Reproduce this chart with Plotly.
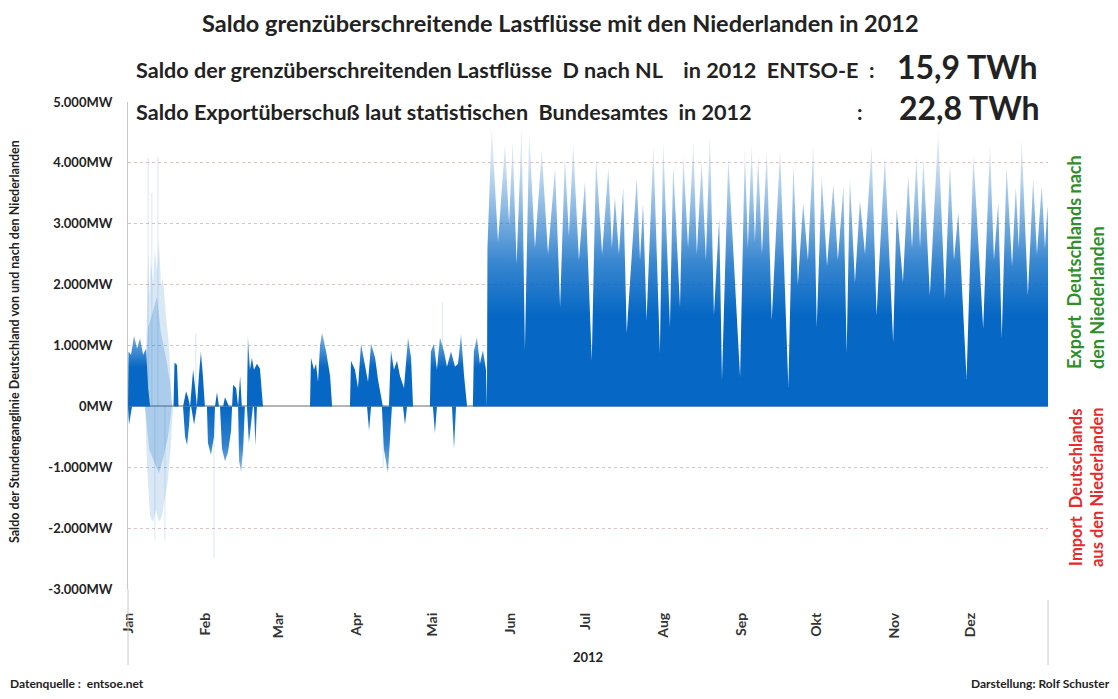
import plotly.graph_objects as go

# ---------------- data (MW, x = day of year 2012) ----------------
month_start_days = [0, 31, 60, 91, 121, 152, 182, 213, 244, 274, 305, 335]
month_labels = ["Jan", "Feb", "Mar", "Apr", "Mai", "Jun", "Jul", "Aug", "Sep", "Okt", "Nov", "Dez"]
y_tick_vals = [-3000, -2000, -1000, 0, 1000, 2000, 3000, 4000, 5000]
y_tick_text = ["-3.000MW", "-2.000MW", "-1.000MW", "0MW", "1.000MW", "2.000MW", "3.000MW", "4.000MW", "5.000MW"]

# export period (from late May): alternating peaks / troughs of the hourly curve
export_day = [142.8, 143.0, 144.7, 147.2, 150.0, 151.6, 153.0, 154.6, 156.6, 157.9, 159.6, 161.9, 164.6, 167.1,
              169.9, 171.9, 173.8, 175.4, 177.1, 179.4, 181.8, 184.5, 186.2, 188.6, 191.1, 192.5, 193.7, 195.3,
              197.0, 198.4, 202.4, 203.7, 204.9, 206.3, 209.0, 211.6, 212.9, 215.6, 216.9, 219.6, 220.9, 222.8,
              224.9, 226.3, 228.2, 229.9, 231.5, 233.1, 235.2, 236.3, 238.8, 243.5, 245.4, 246.6, 248.1, 249.4,
              250.7, 252.2, 254.1, 256.1, 259.4, 262.7, 264.7, 266.5, 268.6, 270.5, 272.6, 274.0, 276.0, 278.1,
              280.6, 282.4, 284.6, 285.9, 287.2, 289.2, 291.2, 293.2, 295.8, 297.8, 301.1, 304.4, 305.8, 308.3,
              310.4, 311.9, 313.7, 315.1, 316.4, 319.0, 322.3, 325.0, 327.0, 328.6, 330.3, 333.6, 336.3, 340.2,
              342.9, 344.5, 346.2, 347.6, 349.5, 351.7, 353.2, 354.4, 355.5, 358.0, 360.1, 361.6, 363.5, 364.8,
              365.8, 366.0, 366.0]
export_mw = [0, 2600, 4600, 2700, 4310, 3000, 4360, 2340, 4600, 920, 4500, 2600, 4200, 2500,
             3920, 1630, 4090, 2800, 4300, 2400, 3700, 750, 4090, 2500, 3920, 2600, 3430, 2500,
             3600, 1200, 3760, 2400, 3330, 1410, 4280, 870, 4360, 1300, 3980, 1630, 4140, 2600,
             4330, 2500, 4030, 2400, 4500, 1500, 3100, 430, 4090, 480, 4250, 2600, 4280, 2700,
             4110, 2500, 4200, 1410, 4220, 320, 3980, 2000, 3330, 2400, 4280, 1300, 3760, 2300,
             3650, 2400, 3600, 870, 3730, 2030, 3380, 2500, 4280, 1490, 4110, 1050, 3250, 2040,
             3790, 2600, 4110, 2600, 4060, 1820, 4520, 1770, 4000, 2400, 3180, 450, 4140, 1280,
             4280, 2400, 3350, 1110, 3950, 2300, 3600, 2600, 4390, 1820, 3730, 2500, 3620, 2600,
             3300, 3000, 0]

# January - May, positive flows (dense part)
early_pos_day = [0, 0.2, 1.2, 2.4, 3.6, 4.8, 6.0, 7.2, 8.0, 8.8, 15.9, 17.5, 18.1, 18.5, 19.5, 20.1,
                 21.9, 23.1, 23.9, 24.7, 25.9, 26.7, 27.4, 28.2, 29.0, 29.8, 30.6, 34.6, 35.4, 36.2,
                 37.8, 38.6, 40.2, 41.4, 41.8, 43.0, 43.8, 44.6, 45.3, 47.3, 47.7, 48.5, 49.3, 50.1,
                 51.3, 52.5, 53.7, 72.4, 72.8, 74.0, 74.8, 75.6, 76.4, 77.2, 78.8, 80.4, 81.2, 88.3,
                 88.7, 90.3, 91.5, 92.7, 94.3, 95.5, 96.7, 98.3, 99.5, 100.6, 101.4, 103.8, 104.6, 105.8,
                 107.0, 108.2, 109.8, 111.4, 112.6, 113.4, 120.1, 120.5, 121.7, 122.9, 124.1, 125.7, 126.9,
                 128.5, 130.1, 131.3, 132.5, 133.7, 134.9, 137.2, 137.6, 138.8, 140.0, 141.2, 142.4, 142.8]
early_pos_mw = [0, 900, 850, 1160, 950, 1120, 850, 950, 300, 0, 0, 0, 0, 720, 680, 0,
                0, 250, 150, 0, 600, 300, 0, 500, 900, 500, 0, 0, 230, 0,
                0, 150, 0, 0, 350, 300, 0, 500, 0, 0, 1160, 600, 800, 600,
                700, 620, 0, 0, 800, 600, 700, 400, 1000, 1210, 900, 500, 0, 0,
                750, 600, 300, 1030, 700, 400, 1030, 800, 430, 200, 0, 0, 920, 600,
                750, 500, 300, 1130, 800, 0, 0, 900, 1030, 600, 1130, 900, 650,
                900, 650, 700, 1190, 500, 0, 0, 900, 1130, 700, 920, 600, 0]

# January - May, negative flows (imports)
early_neg_day = [0, 0.4, 1.0, 1.6, 21.9, 22.7, 23.5, 24.3, 24.7, 25.1, 26.3, 27.4, 31.4, 31.8, 33.0, 34.2,
                 34.6, 36.6, 37.4, 38.6, 39.8, 41.0, 41.4, 43.8, 44.2, 45.0, 45.8, 46.5, 47.3, 48.1, 48.9,
                 49.7, 50.1, 50.7, 51.3, 95.1, 95.9, 96.7, 101.0, 101.8, 103.4, 104.2, 105.0, 109.4, 110.2,
                 111.0, 121.3, 122.1, 122.9, 128.9, 129.7, 130.5]
early_neg_mw = [0, -300, -150, 0, 0, -500, -640, -300, 0, 0, -300, 0, 0, -600, -800, -500,
                0, 0, -700, -900, -750, -400, 0, 0, -900, -1080, -700, 0, 0, -600, -300,
                0, 0, -650, 0, 0, -400, 0, 0, -700, -1100, -600, 0, 0, -300,
                0, 0, -440, 0, 0, -700, 0]

# storm period in January (volatile, sparse hourly values)
storm_outer_pos_day = [6.8, 7.6, 8.0, 8.4, 9.1, 9.9, 10.7, 11.5, 12.3, 13.1, 13.9, 15.1, 16.3, 17.5]
storm_outer_pos_mw = [0, 1500, 2500, 1800, 2400, 2000, 2600, 2200, 2700, 2000, 2100, 1500, 1000, 0]
storm_outer_neg_day = [6.8, 7.6, 8.8, 9.9, 11.1, 12.3, 13.5, 14.7, 15.9, 17.1, 17.9]
storm_outer_neg_mw = [0, -1000, -1800, -1900, -1700, -1900, -1800, -1500, -1200, -600, 0]
storm_inner_pos_day = [6.8, 8.0, 9.5, 11.5, 13.1, 15.1, 16.7, 17.5]
storm_inner_pos_mw = [0, 1300, 1500, 1800, 1200, 800, 400, 0]
storm_inner_neg_day = [6.8, 8.4, 10.3, 12.3, 14.3, 15.9, 17.5]
storm_inner_neg_mw = [0, -700, -900, -1100, -800, -500, 0]

# isolated extreme hours
sparse_day = [8.0, 9.5, 11.9, 10.7, 14.7, 34.2, 27.0, 101.5, 125.0]
sparse_mw = [4080, 3500, 4100, -2200, -2200, -2500, 1200, -1000, 1700]

# ---------------- styling ----------------
R, G, B = 6, 104, 196
BLUE = f"rgb({R},{G},{B})"


def rgba(a):
    return f"rgba({R},{G},{B},{a})"


FONT = "Lato"
PAGE_OFFSET = 8  # default body margin of the html page

fig = go.Figure()

# storm layers
for d, v, a in [(storm_outer_pos_day, storm_outer_pos_mw, 0.15), (storm_outer_neg_day, storm_outer_neg_mw, 0.15),
                (storm_inner_pos_day, storm_inner_pos_mw, 0.22), (storm_inner_neg_day, storm_inner_neg_mw, 0.22)]:
    fig.add_trace(go.Scatter(x=d, y=v, mode="lines", line=dict(width=0), fill="tozeroy",
                             fillcolor=rgba(a), hoverinfo="skip", showlegend=False))

fig.add_trace(go.Bar(x=sparse_day, y=sparse_mw, width=0.35, marker=dict(color=rgba(0.18), line=dict(width=0)),
                     hoverinfo="skip", showlegend=False))

# early positive flows
fig.add_trace(go.Scatter(x=early_pos_day, y=early_pos_mw, mode="lines", line=dict(width=0), fill="tozeroy",
                         fillgradient=dict(type="vertical", start=0, stop=1300,
                                           colorscale=[[0, BLUE], [0.5, BLUE], [1, rgba(0.4)]]),
                         hoverinfo="skip", showlegend=False))
# early negative flows
fig.add_trace(go.Scatter(x=early_neg_day, y=early_neg_mw, mode="lines", line=dict(width=0), fill="tozeroy",
                         fillgradient=dict(type="vertical", start=-1200, stop=0,
                                           colorscale=[[0, rgba(0.35)], [0.5, rgba(0.85)], [1, BLUE]]),
                         hoverinfo="skip", showlegend=False))
# export period
fig.add_trace(go.Scatter(x=export_day, y=export_mw, mode="lines", line=dict(width=0), fill="tozeroy",
                         fillgradient=dict(type="vertical", start=0, stop=4700,
                                           colorscale=[[0, BLUE], [0.32, BLUE], [0.5, rgba(0.8)],
                                                       [0.7, rgba(0.45)], [0.85, rgba(0.2)], [1, rgba(0.06)]]),
                         hoverinfo="skip", showlegend=False))

fig.update_layout(
    width=1118 - 2 * PAGE_OFFSET, height=699 - 2 * PAGE_OFFSET,
    margin=dict(l=128 - PAGE_OFFSET, r=1118 - 1048 - PAGE_OFFSET, t=102 - PAGE_OFFSET,
                b=699 - 589 - PAGE_OFFSET, autoexpand=False),
    paper_bgcolor="white", plot_bgcolor="white",
    barmode="overlay",
    font=dict(family=FONT, color="#222"),
    showlegend=False,
)
fig.update_xaxes(range=[0, 366], tickvals=month_start_days, ticktext=month_labels, tickangle=-90,
                 showgrid=False, zeroline=False, showline=False, ticks="",
                 tickfont=dict(size=14, family=FONT, weight="bold", color="#333"), ticklabelstandoff=20)
fig.update_yaxes(range=[-3000, 5000], tickvals=y_tick_vals, ticktext=y_tick_text,
                 showgrid=True, gridcolor="#dcc4c4", griddash="dot", gridwidth=1,
                 zeroline=True, zerolinecolor="#b4b4b4", zerolinewidth=1.5,
                 showline=True, linecolor="#c8c8c8", linewidth=1, ticks="",
                 tickfont=dict(size=13, family=FONT, weight="bold", color="#222"), ticklabelstandoff=12)


def px_x(p):
    return (p - 128) / 920


def px_y(p):
    return (589 - p) / 487


def note(text, x, y, size, xanchor="center", yanchor="middle", color="#222", angle=0, align="center"):
    fig.add_annotation(text=text, x=px_x(x), y=px_y(y), xref="paper", yref="paper", showarrow=False,
                       xanchor=xanchor, yanchor=yanchor, textangle=angle, align=align,
                       font=dict(family=FONT, size=size, color=color, weight="bold"))


note("Saldo grenzüberschreitende Lastflüsse mit den Niederlanden in 2012", 560, 23, 23.5)
note("Saldo der grenzüberschreitenden Lastflüsse  D nach NL    in 2012  ENTSO-E  :", 134, 70, 21.6, xanchor="left")
note("15,9 TWh", 1040, 67, 32, xanchor="right")
note("Saldo Exportüberschuß laut statistischen  Bundesamtes  in 2012", 134, 112, 21.6, xanchor="left")
note(":", 860, 112, 21.6)
note("22,8 TWh", 1042, 108, 32, xanchor="right")
note("Export  Deutschlands nach<br>den Niederlanden", 1085, 262, 18, color="#2f8f2a", angle=-90, align="left")
note("Import  Deutschlands<br>aus den Niederlanden", 1086, 487, 16.5, color="#e82a2a", angle=-90)
note("Saldo der Stundenganglinie Deutschland von und nach den Niederlanden", 14, 342, 12.5, angle=-90)
note("2012", 588, 657, 13)
note("Datenquelle :  entsoe.net", 8, 683, 12, xanchor="left")
note("Darstellung: Rolf Schuster", 1112, 683, 12, xanchor="right")

fig.add_shape(type="line", xref="paper", yref="paper", x0=0, x1=0, y0=0, y1=px_y(665),
              line=dict(color="#c8c8c8", width=1))
fig.add_shape(type="line", xref="paper", yref="paper", x0=1, x1=1, y0=px_y(600), y1=px_y(665),
              line=dict(color="#c8c8c8", width=1))

fig.write_html("out.html")
